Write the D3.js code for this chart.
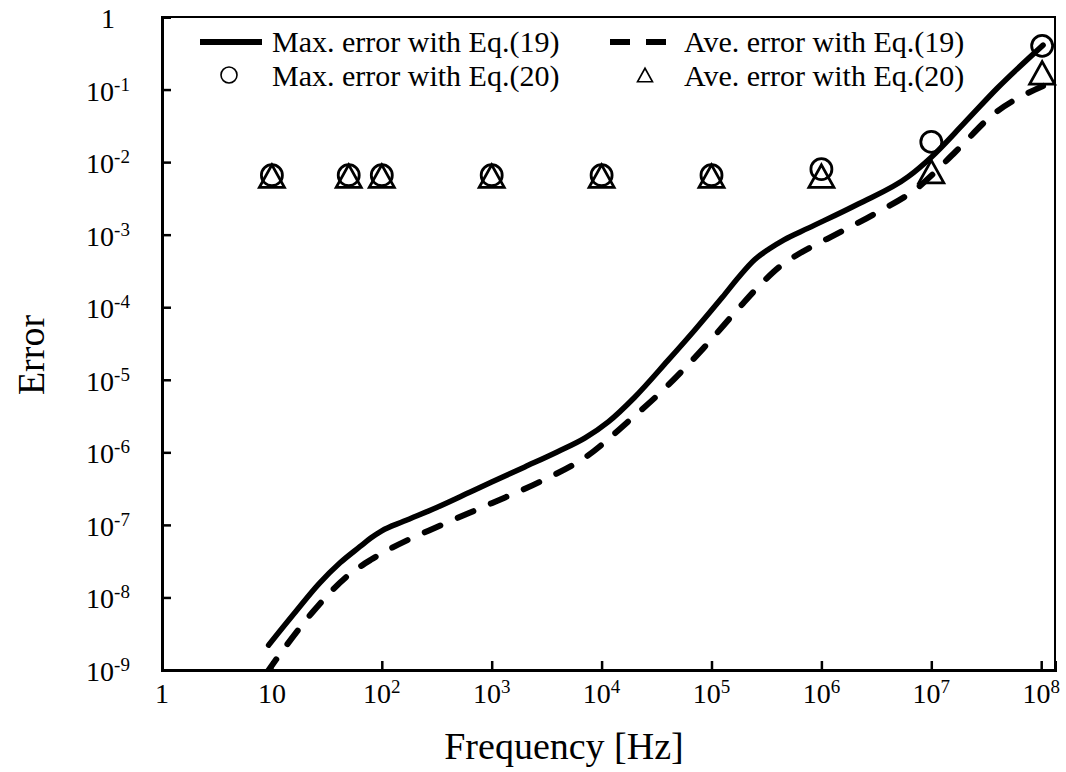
<!DOCTYPE html>
<html>
<head>
<meta charset="utf-8">
<script src="https://cdn.jsdelivr.net/npm/d3@7"></script>
<style>
  body { margin: 0; background: #fff; }
  text { font-family: "Liberation Serif", "Times New Roman", serif; fill: #000; }
</style>
</head>
<body>
<svg id="chart"></svg>
<script>
// Max. error with Eq.(19) - solid line (frequency in Hz, error)
const maxFreq19 = [9.33, 15.8, 26.9, 41.7, 63.1, 79.4, 100, 158, 316, 631, 1000, 2000, 3981, 7079, 11500, 20000, 39800, 70800, 126000, 178000, 245000, 331000, 457000, 759000, 2.14e6, 6.17e6, 1e7, 2e7, 4e7, 1.04e8]
const maxErr19 = [2.2e-9, 5.9e-9, 1.55e-8, 3.0e-8, 5.0e-8, 6.6e-8, 8.3e-8, 1.12e-7, 1.74e-7, 2.82e-7, 3.9e-7, 6.3e-7, 1.02e-6, 1.58e-6, 2.63e-6, 5.75e-6, 1.82e-5, 4.9e-5, 1.38e-4, 2.63e-4, 4.47e-4, 6.3e-4, 8.5e-4, 1.23e-3, 2.63e-3, 6.3e-3, 1.17e-2, 3.47e-2, 0.105, 0.41]

// Ave. error with Eq.(19) - dashed line
const aveFreq19 = [8.9, 13.3, 23.1, 50, 79.4, 123, 351, 1000, 2754, 7244, 17400, 38900, 85000, 180000, 282000, 417000, 631000, 1.12e6, 3.0e6, 7.6e6, 1.66e7, 3.76e7, 8.7e7, 1.04e8]
const aveErr19 = [9.0e-10, 2.1e-9, 6.1e-9, 2.04e-8, 3.3e-8, 4.8e-8, 1.0e-7, 1.99e-7, 3.94e-7, 8.7e-7, 2.65e-6, 8.0e-6, 2.75e-5, 1.0e-4, 2.09e-4, 3.63e-4, 5.5e-4, 8.7e-4, 1.91e-3, 4.5e-3, 1.39e-2, 4.7e-2, 9.9e-2, 0.112]

// Eq.(20) markers
const markFreq20 = [10, 50, 100, 1e3, 1e4, 1e5, 1e6, 1e7, 1.02e8]
const maxErr20 = [6.6e-3, 6.6e-3, 6.6e-3, 6.6e-3, 6.6e-3, 6.6e-3, 8.0e-3, 1.9e-2, 0.40]
const aveErr20 = [6.4e-3, 6.4e-3, 6.4e-3, 6.4e-3, 6.4e-3, 6.4e-3, 6.4e-3, 7.4e-3, 0.17]

const xTickVals = [1, 10, 1e2, 1e3, 1e4, 1e5, 1e6, 1e7, 1e8]
const yTickVals = [1, 1e-1, 1e-2, 1e-3, 1e-4, 1e-5, 1e-6, 1e-7, 1e-8, 1e-9]

const legendLabels = ['Max. error with Eq.(19)', 'Ave. error with Eq.(19)', 'Max. error with Eq.(20)', 'Ave. error with Eq.(20)']

const width = 1066, height = 772
const plot = {left: 162, right: 1055, top: 17, bottom: 670}

const svg = d3.select('#chart')
    .attr('width', width)
    .attr('height', height)

const xScale = d3.scaleLog()
    .domain([1, Math.pow(10, (plot.right - plot.left) / 109.9)])
    .range([plot.left, plot.right])

const yScale = d3.scaleLog()
    .domain([1e-9, 1])
    .range([plot.bottom, plot.top])

// clip for the curves
svg.append('clipPath').attr('id', 'clip')
    .append('rect')
    .attr('x', plot.left).attr('y', plot.top)
    .attr('width', plot.right - plot.left).attr('height', plot.bottom - plot.top)

// frame (top + right)
svg.append('rect')
    .attr('x', plot.left).attr('y', plot.top)
    .attr('width', plot.right - plot.left).attr('height', plot.bottom - plot.top)
    .attr('fill', 'none').attr('stroke', '#000').attr('stroke-width', 2)

// axes with inward ticks
const xAxis = d3.axisBottom(xScale).tickValues(xTickVals).tickSize(-9).tickFormat('')
const yAxis = d3.axisLeft(yScale).tickValues(yTickVals).tickSize(-9).tickFormat('')

const xAxisG = svg.append('g')
    .attr('transform', `translate(0,${plot.bottom})`)
    .call(xAxis)
const yAxisG = svg.append('g')
    .attr('transform', `translate(${plot.left},0)`)
    .call(yAxis)

;[xAxisG, yAxisG].forEach(g => {
    g.select('.domain').attr('stroke', '#000').attr('stroke-width', 3)
    g.selectAll('.tick line').attr('stroke', '#000').attr('stroke-width', 2.5)
})

// tick labels with superscripts
const exp = v => Math.round(Math.log10(v))

const xLab = svg.append('g').selectAll('text')
    .data(xTickVals)
    .join('text')
        .attr('x', d => xScale(d))
        .attr('y', 703)
        .attr('text-anchor', 'middle')
        .attr('font-size', 28)
xLab.each(function(d) {
    const t = d3.select(this)
    const e = exp(d)
    if (e === 0) { t.text('1'); return }
    if (e === 1) { t.text('10'); return }
    t.append('tspan').text('10')
    t.append('tspan').attr('font-size', 19).attr('dy', -10).text(e)
})

const yLab = svg.append('g').selectAll('text')
    .data(yTickVals)
    .join('text')
        .attr('x', 108)
        .attr('y', d => yScale(d) + 11)
        .attr('text-anchor', 'middle')
        .attr('font-size', 28)
yLab.each(function(d) {
    const t = d3.select(this)
    const e = exp(d)
    if (e === 0) { t.text('1'); return }
    t.append('tspan').text('10')
    t.append('tspan').attr('font-size', 19).attr('dy', -10).text(e)
})

// axis titles
svg.append('text')
    .attr('x', 564)
    .attr('y', 759)
    .attr('text-anchor', 'middle')
    .attr('font-size', 38)
    .text('Frequency [Hz]')

svg.append('text')
    .attr('transform', `translate(44,355) rotate(-90)`)
    .attr('text-anchor', 'middle')
    .attr('font-size', 38)
    .text('Error')

// curves
const line = (fs, es) => d3.line()
    .x((d, i) => xScale(fs[i]))
    .y((d, i) => yScale(es[i]))
    .curve(d3.curveMonotoneX)(fs)

const curves = svg.append('g').attr('clip-path', 'url(#clip)')

curves.append('path')
    .attr('d', line(maxFreq19, maxErr19))
    .attr('fill', 'none')
    .attr('stroke', '#000')
    .attr('stroke-width', 5.5)
    .attr('stroke-linecap', 'round')

curves.append('path')
    .attr('d', line(aveFreq19, aveErr19))
    .attr('fill', 'none')
    .attr('stroke', '#000')
    .attr('stroke-width', 6)
    .attr('stroke-linecap', 'round')
    .attr('stroke-dasharray', '17 19')

// markers
const triPath = (cx, cy, s) => {
    const h = s * 0.9
    return `M${cx},${cy - h / 2}L${cx + s / 2},${cy + h / 2}L${cx - s / 2},${cy + h / 2}Z`
}

svg.append('g').selectAll('circle')
    .data(markFreq20)
    .join('circle')
        .attr('cx', d => xScale(d))
        .attr('cy', (d, i) => yScale(maxErr20[i]))
        .attr('r', 10.5)
        .attr('fill', 'none')
        .attr('stroke', '#000')
        .attr('stroke-width', 2.8)

svg.append('g').selectAll('path')
    .data(markFreq20)
    .join('path')
        .attr('d', (d, i) => triPath(xScale(d), yScale(aveErr20[i]), 25))
        .attr('fill', 'none')
        .attr('stroke', '#000')
        .attr('stroke-width', 2.8)
        .attr('stroke-linejoin', 'miter')

// legend
const leg = svg.append('g')
const legFont = 30

leg.append('line')
    .attr('x1', 200).attr('x2', 262).attr('y1', 42).attr('y2', 42)
    .attr('stroke', '#000').attr('stroke-width', 6)
leg.append('text').attr('x', 272).attr('y', 52).attr('font-size', legFont).text(legendLabels[0])

leg.append('line')
    .attr('x1', 610).attr('x2', 666).attr('y1', 42).attr('y2', 42)
    .attr('stroke', '#000').attr('stroke-width', 6)
    .attr('stroke-dasharray', '20 16')
leg.append('text').attr('x', 684).attr('y', 52).attr('font-size', legFont).text(legendLabels[1])

leg.append('circle')
    .attr('cx', 229).attr('cy', 75).attr('r', 8)
    .attr('fill', 'none').attr('stroke', '#000').attr('stroke-width', 1.6)
leg.append('text').attr('x', 272).attr('y', 86).attr('font-size', legFont).text(legendLabels[2])

leg.append('path')
    .attr('d', triPath(645, 75, 15))
    .attr('fill', 'none').attr('stroke', '#000').attr('stroke-width', 1.6)
leg.append('text').attr('x', 684).attr('y', 86).attr('font-size', legFont).text(legendLabels[3])
</script>
</body>
</html>
